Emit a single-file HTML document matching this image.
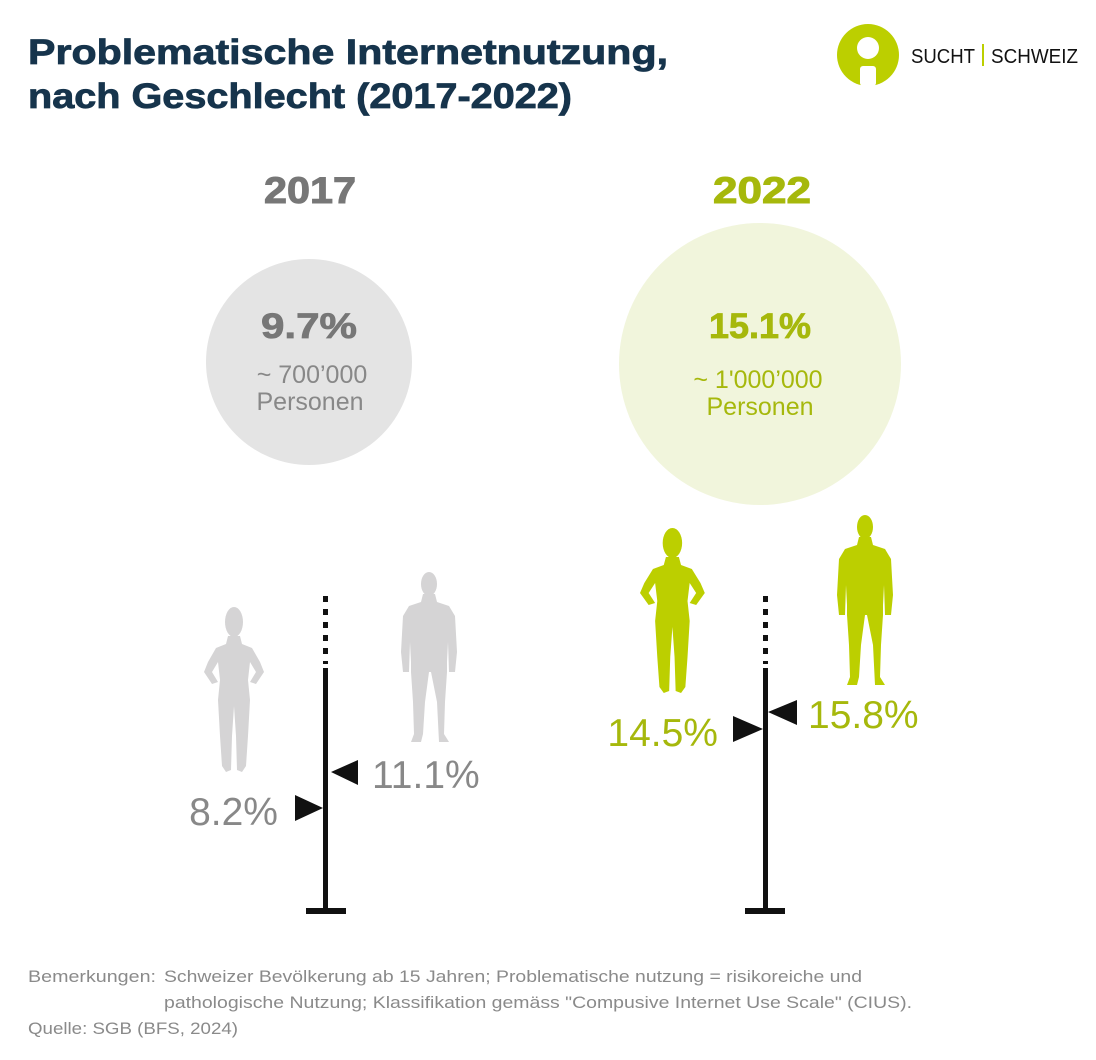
<!DOCTYPE html>
<html><head><meta charset="utf-8"><style>
html,body{margin:0;padding:0;background:#fff}
svg{display:block}
text{font-family:"Liberation Sans",sans-serif}
</style></head><body>
<svg width="1096" height="1060" viewBox="0 0 1096 1060" xmlns="http://www.w3.org/2000/svg">
<defs>
<g id="woman">
<ellipse cx="30" cy="16" rx="9" ry="15"/>
<path d="M24,30 L36,30 L38,38 L48,42 L56,56 L60,66 L52,78 L46,76 L52,66 L46,56 L44,74 L46,94 L44,130 L42,160 L38,166 L33,164 L32,130 L30,100 L28,130 L27,164 L22,166 L18,160 L16,130 L14,94 L16,74 L14,56 L8,66 L14,76 L8,78 L0,66 L4,56 L12,42 L22,38 Z"/>
</g>
<g id="man">
<ellipse cx="28" cy="12" rx="8" ry="12"/>
<path d="M22,22 L34,22 L36,30 L48,34 L54,44 L56,80 L54,100 L48,100 L47,70 L46,90 L46,100 L44,130 L43,162 L48,170 L38,170 L36,130 L30,100 L28,100 L24,130 L22,162 L20,170 L10,170 L13,162 L12,130 L10,100 L10,90 L9,70 L8,100 L2,100 L0,80 L2,44 L8,34 L20,30 Z"/>
</g>
</defs>

<!-- Title -->
<text x="28" y="64" font-size="35" font-weight="bold" fill="#16344c" stroke="#16344c" stroke-width="0.8" textLength="640" lengthAdjust="spacingAndGlyphs">Problematische Internetnutzung,</text>
<text x="28" y="108" font-size="35" font-weight="bold" fill="#16344c" stroke="#16344c" stroke-width="0.8" textLength="544" lengthAdjust="spacingAndGlyphs">nach Geschlecht (2017-2022)</text>

<!-- Logo -->
<circle cx="868" cy="55" r="31" fill="#bccf00"/>
<circle cx="868" cy="48" r="11" fill="#fff"/>
<rect x="860" y="66" width="16" height="20" rx="3" fill="#fff"/>
<text x="911" y="63" font-size="20" fill="#111" textLength="64" lengthAdjust="spacingAndGlyphs">SUCHT</text>
<rect x="982" y="44" width="2" height="22" fill="#bccf00"/>
<text x="991" y="63" font-size="20" fill="#111" textLength="87" lengthAdjust="spacingAndGlyphs">SCHWEIZ</text>

<!-- Years -->
<text x="310" y="203" font-size="37" font-weight="bold" fill="#777" stroke="#777" stroke-width="1" text-anchor="middle" textLength="92" lengthAdjust="spacingAndGlyphs">2017</text>
<text x="762" y="203" font-size="37" font-weight="bold" fill="#a6b80c" stroke="#a6b80c" stroke-width="1" text-anchor="middle" textLength="98" lengthAdjust="spacingAndGlyphs">2022</text>

<!-- Circles -->
<circle cx="309" cy="362" r="103" fill="#e4e4e4"/>
<circle cx="760" cy="364" r="141" fill="#f1f5dc"/>
<text x="309" y="338" font-size="35" font-weight="bold" fill="#777" stroke="#777" stroke-width="0.8" text-anchor="middle" textLength="96" lengthAdjust="spacingAndGlyphs">9.7%</text>
<text x="312" y="383" font-size="25" fill="#888" text-anchor="middle">~ 700’000</text>
<text x="310" y="410" font-size="25" fill="#888" text-anchor="middle">Personen</text>
<text x="760" y="338" font-size="35" font-weight="bold" fill="#a6b80c" stroke="#a6b80c" stroke-width="0.8" text-anchor="middle" textLength="102" lengthAdjust="spacingAndGlyphs">15.1%</text>
<text x="758" y="388" font-size="25" fill="#a6b80c" text-anchor="middle">~ 1'000’000</text>
<text x="760" y="415" font-size="25" fill="#a6b80c" text-anchor="middle">Personen</text>

<!-- Silhouettes -->
<g fill="#d5d4d5">
<use href="#woman" transform="translate(204,606)"/>
<use href="#man" transform="translate(401,572)"/>
</g>
<g fill="#bccf00">
<use href="#woman" transform="translate(640,527) scale(1.08,1)"/>
<use href="#man" transform="translate(837,515)"/>
</g>

<!-- Poles -->
<g fill="#111">
<rect x="323" y="596" width="5" height="6"/><rect x="323" y="609" width="5" height="6"/><rect x="323" y="622" width="5" height="6"/><rect x="323" y="635" width="5" height="6"/><rect x="323" y="648" width="5" height="6"/><rect x="323" y="661" width="5" height="3"/>
<rect x="323" y="668" width="5" height="244"/>
<rect x="306" y="908" width="40" height="6"/>
<polygon points="295,795 323,808 295,821"/>
<polygon points="358,760 331,772 358,785"/>

<rect x="763" y="596" width="5" height="6"/><rect x="763" y="609" width="5" height="6"/><rect x="763" y="622" width="5" height="6"/><rect x="763" y="635" width="5" height="6"/><rect x="763" y="648" width="5" height="6"/><rect x="763" y="661" width="5" height="3"/>
<rect x="763" y="668" width="5" height="244"/>
<rect x="745" y="908" width="40" height="6"/>
<polygon points="733,716 763,729 733,742"/>
<polygon points="797,700 768,712 797,725"/>
</g>

<text x="278" y="825" font-size="39" fill="#888" text-anchor="end">8.2%</text>
<text x="372" y="788" font-size="39" fill="#888">11.1%</text>
<text x="718" y="746" font-size="39" fill="#a6b80c" text-anchor="end">14.5%</text>
<text x="808" y="728" font-size="39" fill="#a6b80c">15.8%</text>

<!-- Notes -->
<g font-size="17" fill="#8a8a8a">
<text x="28" y="982" textLength="128" lengthAdjust="spacingAndGlyphs">Bemerkungen:</text>
<text x="164" y="982" textLength="698" lengthAdjust="spacingAndGlyphs">Schweizer Bevölkerung ab 15 Jahren; Problematische nutzung = risikoreiche und</text>
<text x="164" y="1008" textLength="748" lengthAdjust="spacingAndGlyphs">pathologische Nutzung; Klassifikation gemäss "Compusive Internet Use Scale" (CIUS).</text>
<text x="28" y="1034" textLength="210" lengthAdjust="spacingAndGlyphs">Quelle: SGB (BFS, 2024)</text>
</g>
</svg>
</body></html>
